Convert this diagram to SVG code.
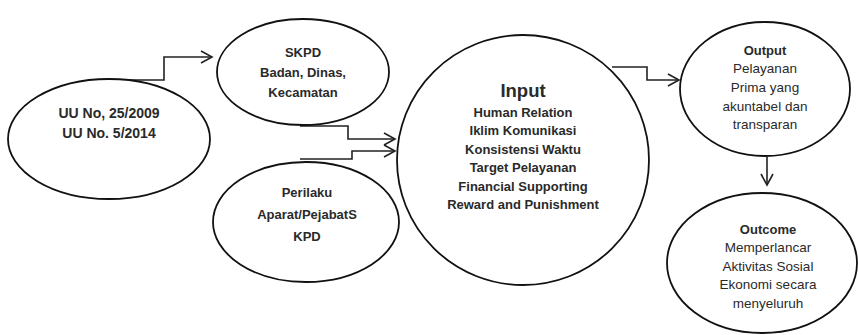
<svg xmlns="http://www.w3.org/2000/svg" width="858" height="335" viewBox="0 0 858 335">
<defs>
<style>
.node{fill:#fff;stroke:#111;stroke-width:1.8}
.conn{fill:none;stroke:#222;stroke-width:1.6}
text{font-family:"Liberation Sans",Arial,sans-serif;fill:#2a2a2a;text-anchor:middle}
.b{font-weight:bold;font-size:13px}
.uu{font-weight:bold;font-size:14px}
.big{font-weight:bold;font-size:18.5px}
.r{font-size:13.5px}
</style>
<marker id="arr" markerUnits="userSpaceOnUse" markerWidth="14" markerHeight="16" refX="12" refY="7" orient="auto">
<path d="M1,1 L12,7 L1,13" fill="none" stroke="#222" stroke-width="1.6"/>
</marker>
</defs>
<rect width="858" height="335" fill="#fff"/>
<g id="connectors">
<polyline class="conn" points="116,80 164,80 164,57 212,57" marker-end="url(#arr)"/>
<polyline class="conn" points="300,126 348,126 348,139 395,139" marker-end="url(#arr)"/>
<polyline class="conn" points="300,159 352,159 352,151 395,151" marker-end="url(#arr)"/>
<polyline class="conn" points="612,67 647,67 647,80 679,80" marker-end="url(#arr)"/>
<polyline class="conn" points="767,157 767,185" marker-end="url(#arr)"/>
</g>
<g id="uu">
<ellipse class="node" cx="109" cy="139" rx="101" ry="60"/>
<text class="uu" x="109" y="118">UU No, 25/2009</text>
<text class="uu" x="109" y="138">UU No. 5/2014</text>
</g>
<g id="skpd">
<ellipse class="node" cx="303" cy="72" rx="86" ry="53"/>
<text class="b" x="303" y="57">SKPD</text>
<text class="b" x="303" y="77">Badan, Dinas,</text>
<text class="b" x="303" y="97">Kecamatan</text>
</g>
<g id="perilaku">
<ellipse class="node" cx="306" cy="222" rx="93" ry="60"/>
<text class="b" x="307" y="197">Perilaku</text>
<text class="b" x="307" y="219">Aparat/PejabatS</text>
<text class="b" x="307" y="241">KPD</text>
</g>
<g id="input">
<ellipse class="node" cx="523" cy="160" rx="126" ry="125"/>
<text class="big" x="523" y="97">Input</text>
<text class="b" x="523" y="117">Human Relation</text>
<text class="b" x="523" y="135">Iklim Komunikasi</text>
<text class="b" x="523" y="154">Konsistensi Waktu</text>
<text class="b" x="523" y="172">Target Pelayanan</text>
<text class="b" x="523" y="191">Financial Supporting</text>
<text class="b" x="523" y="209">Reward and Punishment</text>
</g>
<g id="output">
<ellipse class="node" cx="765" cy="89" rx="85" ry="67"/>
<text class="b" x="765" y="55">Output</text>
<text class="r" x="765" y="73">Pelayanan</text>
<text class="r" x="765" y="92">Prima yang</text>
<text class="r" x="765" y="111">akuntabel dan</text>
<text class="r" x="765" y="129">transparan</text>
</g>
<g id="outcome">
<ellipse class="node" cx="762" cy="263" rx="95" ry="70"/>
<text class="b" x="768" y="234">Outcome</text>
<text class="r" x="768" y="252">Memperlancar</text>
<text class="r" x="768" y="271">Aktivitas Sosial</text>
<text class="r" x="768" y="289">Ekonomi secara</text>
<text class="r" x="768" y="308">menyeluruh</text>
</g>
</svg>
